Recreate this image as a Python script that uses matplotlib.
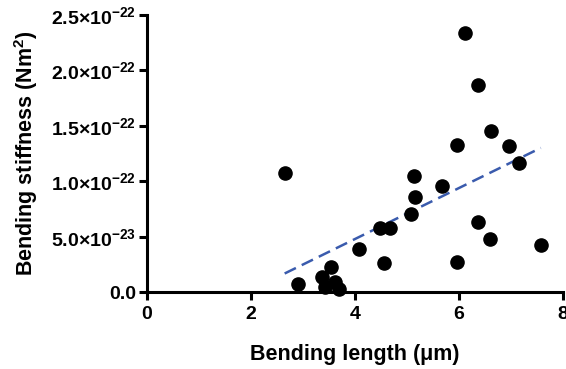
import matplotlib
matplotlib.use("Agg")
import matplotlib.pyplot as plt
from matplotlib.ticker import FuncFormatter
import numpy as np

# bending length (um) and bending stiffness (x1e-23 N m^2)
bend_length = [2.65, 6.12, 6.37, 6.63, 5.97, 6.96, 7.17, 5.13, 5.67, 5.16,
               5.08, 4.49, 4.67, 4.08, 4.56, 6.38, 6.61, 7.58, 5.97, 3.55,
               3.37, 2.91, 3.43, 3.62, 3.69]
bend_stiff = [10.8, 23.4, 18.7, 14.5, 13.3, 13.2, 11.7, 10.5, 9.6, 8.6,
              7.1, 5.8, 5.8, 3.9, 2.6, 6.3, 4.8, 4.3, 2.7, 2.3,
              1.35, 0.78, 0.48, 0.96, 0.3]
x_ticks = [0, 2, 4, 6, 8]
y_ticks = [0, 5, 10, 15, 20, 25]
y_labels = ['0.0', r'5.0{\times}10^{-23}', r'1.0{\times}10^{-22}', r'1.5{\times}10^{-22}',
            r'2.0{\times}10^{-22}', r'2.5{\times}10^{-22}']

plt.rcParams['font.family'] = ['Liberation Sans', 'DejaVu Sans']
plt.rcParams['font.weight'] = 'bold'
plt.rcParams['mathtext.fontset'] = 'custom'
plt.rcParams['mathtext.rm'] = 'Liberation Sans:bold'
plt.rcParams['mathtext.bf'] = 'Liberation Sans:bold'
plt.rcParams['mathtext.it'] = 'Liberation Sans:bold'

fig = plt.figure(figsize=(5.66, 3.69), dpi=100)
ax = fig.add_axes([0.2597, 0.2079, 0.7343, 0.7514])

x = np.array(bend_length)
y = np.array(bend_stiff)
ax.scatter(x, y, s=90, color='black', zorder=3, clip_on=False)

# linear regression line over the data range
slope, intercept = np.polyfit(x, y, 1)
xf = np.array([x.min(), x.max()])
ax.plot(xf, slope * xf + intercept, color='#3a5bad', lw=1.8, dashes=(5, 2.6), zorder=2)

ax.set_xlim(0, 8)
ax.set_ylim(0, 25)
ax.set_xticks(x_ticks)
ax.set_yticks(y_ticks)
lab = dict(zip(y_ticks, y_labels))
ax.yaxis.set_major_formatter(FuncFormatter(
    lambda v, p: '$\\mathbf{' + lab.get(int(round(v)), '') + '}$' if v else '0.0'))

for s in ['top', 'right']:
    ax.spines[s].set_visible(False)
for s in ['left', 'bottom']:
    ax.spines[s].set_linewidth(2.2)
ax.tick_params(width=2.2, length=6, labelsize=14, pad=2)
ax.tick_params(axis='x', pad=4)

ax.set_xlabel(u'Bending length (\u03bcm)', fontsize=15.5, fontweight='bold', labelpad=15)
ax.set_ylabel(r'Bending stiffness (Nm$^\mathbf{2}$)', fontsize=15.5, fontweight='bold', labelpad=8)

fig.savefig('out.png', dpi=100)
